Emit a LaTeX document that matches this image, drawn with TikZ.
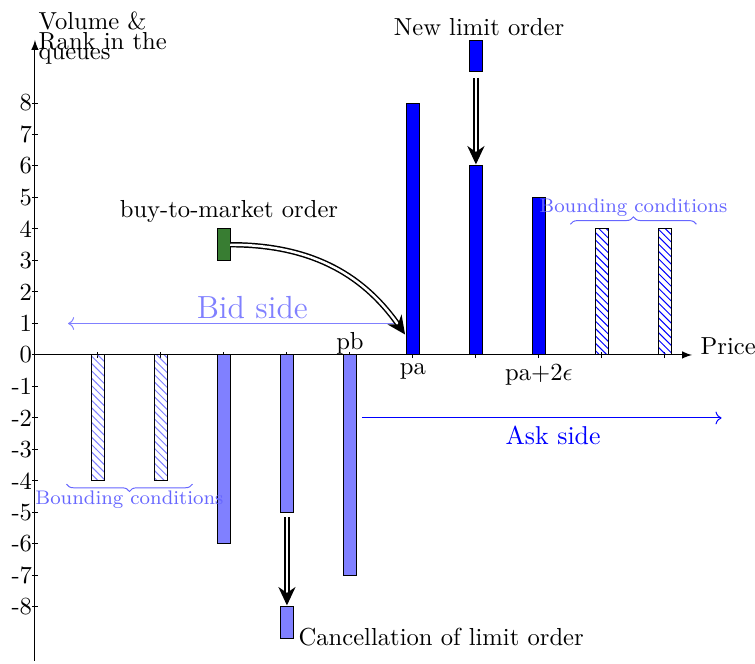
\documentclass[tikz,border=0pt]{standalone}
\usepackage{tikz}
\usetikzlibrary{arrows.meta,patterns,decorations.pathreplacing}
\definecolor{mktgreen}{RGB}{56,125,50}

\begin{document}
\begin{tikzpicture}[x=0.45cm, y=0.45cm,
    askbar/.style={draw=black, fill=blue},
    bidbar/.style={draw=black, fill=blue!50},
    askbound/.style={draw=black, pattern=north west lines, pattern color=blue},
    bidbound/.style={draw=black, pattern=north west lines, pattern color=blue!50},
    orderarrow/.style={double, line width=0.6pt, double distance=1pt, -{Stealth[length=7.5pt, width=7pt]}},
    bound/.style={decorate, decoration={brace, amplitude=3pt}, blue!60},
  ]
      \useasboundingbox (-1.11,-9.78) rectangle (22.86,11.27);
      \coordinate (O) at (0,0);
      \draw[-latex] (O)--(20.86,0) node[anchor=base west] (price) {Price};
      \draw[-latex] (0,-9.7)--(0,10) coordinate (ytop);
      \node[anchor=north west, align=left, inner sep=0pt] (ylabel) at (0.1,10.9) {Volume \&\\[-4pt]Rank in the\\[-8pt]queues};
      \foreach \y in {-8,...,8} {
        \draw (-0.1,\y)--(0.1,\y);
        \node[left, inner sep=1pt] (ytick\y) at (0,\y) {\y};
      }
      \foreach \x in {2,4,...,20}
        \draw (\x,-0.1)--(\x,0.1);
      \node[above, inner sep=0pt] (pb) at (10,0) {pb};
      \node[below] (pa) at (12,0) {pa};
      \node[below] (pa2e) at (16,0) {pa+2$\epsilon$};
      % bid side
      \foreach \x in {2,4}
        \draw[bidbound] (\x-0.2,0) rectangle (\x+0.2,-4);
      \foreach \x/\h in {6/6,8/5,10/7}
        \draw[bidbar] (\x-0.2,0) rectangle (\x+0.2,-\h);
      \draw[bidbar] (7.8,-8) rectangle (8.2,-9);
      % ask side
      \foreach \x/\h in {12/8,14/6,16/5}
        \draw[askbar] (\x-0.2,0) rectangle (\x+0.2,\h);
      \foreach \x in {18,20}
        \draw[askbound] (\x-0.2,0) rectangle (\x+0.2,4);
      \draw[askbar] (13.8,9) rectangle (14.2,10);
      \draw[draw=black, fill=mktgreen] (5.8,3) rectangle (6.2,4);
      % orders
      \coordinate (mktstart) at (6.2,3.5);
      \coordinate (mktend) at (11.75,0.65);
      \coordinate (newstart) at (14,8.8);
      \coordinate (newend) at (14,6.05);
      \coordinate (cancelstart) at (8,-5.15);
      \coordinate (cancelend) at (8,-7.95);
      \draw[orderarrow] (mktstart) to[out=0, in=125] (mktend);
      \draw[orderarrow] (newstart)--(newend);
      \draw[orderarrow] (cancelstart)--(cancelend);
      \node (newlbl) at (14.1,10.4) {New limit order};
      \node (mktlbl) at (6.16,4.57) {buy-to-market order};
      \node[right, inner sep=2pt] (cancellbl) at (8.2,-8.95) {Cancellation of limit order};
      % sides
      \coordinate (bidright) at (11.4,1);
      \coordinate (bidleft) at (1.05,1);
      \draw[blue!50, ->] (bidright)--(bidleft);
      \node[blue!50, font=\fontsize{13}{15}\selectfont] (bidlbl) at (6.9,1.5) {Bid side};
      \coordinate (askleft) at (10.38,-2);
      \coordinate (askright) at (21.8,-2);
      \draw[blue, ->] (askleft)--(askright);
      \node[blue, font=\fontsize{10.5}{12}\selectfont] (asklbl) at (16.45,-2.55) {Ask side};
      % bounding conditions
      \draw[bound] (17,4.15)--(21,4.15);
      \node[blue!60, font=\footnotesize] (askbnd) at (19,4.67) {Bounding conditions};
      \draw[bound] (5,-4.1)--(1,-4.1);
      \node[blue!60, font=\footnotesize] (bidbnd) at (3,-4.6) {Bounding conditions};
\end{tikzpicture}
\end{document}
